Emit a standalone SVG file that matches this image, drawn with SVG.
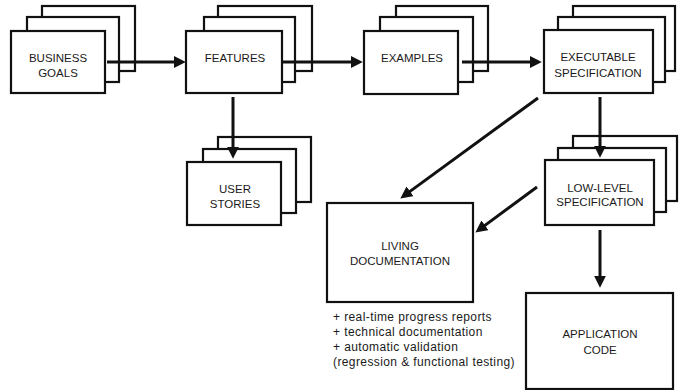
<svg xmlns="http://www.w3.org/2000/svg" width="680" height="390" viewBox="0 0 680 390">
<style>
  .box { fill: #ffffff; stroke: #111111; stroke-width: 2.2; }
  .lbl { font-family: "Liberation Sans", Arial, sans-serif; font-size: 11.5px; fill: #1a1a1a; text-anchor: middle; }
  .note { font-family: "Liberation Sans", Arial, sans-serif; font-size: 12px; letter-spacing: 0.4px; fill: #1a1a1a; }
  .conn { stroke: #111111; stroke-width: 3; fill: none; marker-end: url(#arrow); }
</style>
<defs>
  <marker id="arrow" viewBox="0 0 10 10" refX="6" refY="5" markerWidth="12" markerHeight="12" markerUnits="userSpaceOnUse" orient="auto">
    <path d="M0,0 L10,5 L0,10 z" fill="#111111"/>
  </marker>
</defs>
<rect width="680" height="390" fill="#ffffff"/>

<g id="business-goals">
  <rect class="box" x="42" y="6" width="93" height="65"/>
  <rect class="box" x="27" y="17" width="92" height="65"/>
  <rect class="box" x="11" y="31" width="94" height="62"/>
  <text class="lbl" x="58" y="62">BUSINESS</text>
  <text class="lbl" x="58" y="77">GOALS</text>
</g>

<g id="features">
  <rect class="box" x="218" y="6" width="94" height="65"/>
  <rect class="box" x="204" y="17" width="91" height="65"/>
  <rect class="box" x="186" y="31" width="96" height="62"/>
  <text class="lbl" x="235" y="62">FEATURES</text>
</g>

<g id="examples">
  <rect class="box" x="396" y="6" width="92" height="65"/>
  <rect class="box" x="380" y="17" width="93" height="65"/>
  <rect class="box" x="364" y="31" width="94" height="63"/>
  <text class="lbl" x="412" y="62">EXAMPLES</text>
</g>

<g id="executable-specification">
  <rect class="box" x="573" y="6" width="102" height="65"/>
  <rect class="box" x="558" y="17" width="107" height="65"/>
  <rect class="box" x="544" y="30" width="109" height="63"/>
  <text class="lbl" x="598" y="61">EXECUTABLE</text>
  <text class="lbl" x="598" y="77">SPECIFICATION</text>
</g>

<g id="user-stories">
  <rect class="box" x="218" y="137" width="93" height="65"/>
  <rect class="box" x="203" y="149" width="93" height="64"/>
  <rect class="box" x="187" y="162" width="94" height="63"/>
  <text class="lbl" x="235" y="193">USER</text>
  <text class="lbl" x="235" y="208">STORIES</text>
</g>

<g id="low-level-specification">
  <rect class="box" x="573" y="136" width="104" height="65"/>
  <rect class="box" x="558" y="148" width="108" height="64"/>
  <rect class="box" x="545" y="160" width="109" height="65"/>
  <text class="lbl" x="600" y="192">LOW-LEVEL</text>
  <text class="lbl" x="600" y="206">SPECIFICATION</text>
</g>

<g id="living-documentation">
  <rect class="box" x="327" y="203" width="146" height="99"/>
  <text class="lbl" x="400" y="250">LIVING</text>
  <text class="lbl" x="400" y="265">DOCUMENTATION</text>
  <text class="note" x="333" y="321">+ real-time progress reports</text>
  <text class="note" x="333" y="336">+ technical documentation</text>
  <text class="note" x="333" y="351">+ automatic validation</text>
  <text class="note" x="333" y="366">(regression &amp; functional testing)</text>
</g>

<g id="application-code">
  <rect class="box" x="526" y="293" width="147" height="96"/>
  <text class="lbl" x="600" y="338">APPLICATION</text>
  <text class="lbl" x="600" y="354">CODE</text>
</g>

<g id="connectors">
  <line class="conn" x1="107" y1="62" x2="181" y2="62"/>
  <line class="conn" x1="283" y1="62" x2="358" y2="62"/>
  <line class="conn" x1="462" y1="62" x2="537" y2="62"/>
  <line class="conn" x1="233" y1="97" x2="233" y2="154"/>
  <line class="conn" x1="600" y1="97" x2="600" y2="153"/>
  <line class="conn" x1="538" y1="98" x2="404.2" y2="195.6"/>
  <line class="conn" x1="537" y1="187" x2="479.2" y2="229.6"/>
  <line class="conn" x1="600" y1="230" x2="600" y2="283"/>
</g>
</svg>
